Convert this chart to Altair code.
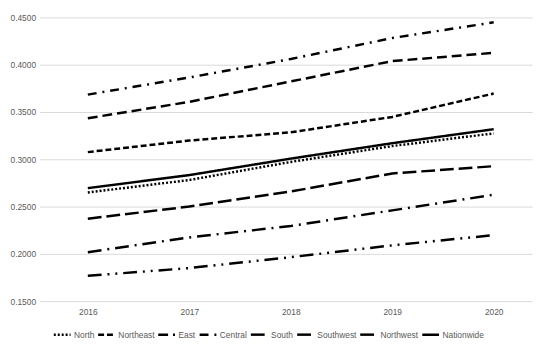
import altair as alt
import pandas as pd

years = [2016, 2017, 2018, 2019, 2020]
series = ["North", "Northeast", "East", "Central", "South", "Southwest", "Northwest", "Nationwide"]
north = [0.2649, 0.2781, 0.2972, 0.3140, 0.3274]
northeast = [0.3076, 0.3198, 0.3285, 0.3448, 0.3695]
east = [0.3434, 0.3607, 0.3823, 0.4038, 0.4125]
central = [0.3684, 0.3865, 0.4060, 0.4282, 0.4448]
south = [0.2372, 0.2500, 0.2660, 0.2850, 0.2927]
southwest = [0.2018, 0.2174, 0.2295, 0.2460, 0.2625]
northwest = [0.1768, 0.1850, 0.1965, 0.2090, 0.2198]
nationwide = [0.2695, 0.2833, 0.3007, 0.3170, 0.3318]

values = [north, northeast, east, central, south, southwest, northwest, nationwide]
dashes = [[2, 2], [6, 3], [10, 5], [9, 6, 2, 6], [14, 5], [14, 6, 2, 6], [14, 6, 2, 6, 2, 6], [1, 0]]

rows = []
for name, vals in zip(series, values):
    for yr, v in zip(years, vals):
        rows.append({"Year": yr, "Value": v, "Region": name})
df = pd.DataFrame(rows)

FONT = "Liberation Sans"
GRAY = "#595959"

chart = alt.Chart(df).mark_line(color="black", strokeWidth=2.5, strokeCap="butt").encode(
    x=alt.X("Year:Q",
            scale=alt.Scale(domain=[2015.524, 2020.379], nice=False, zero=False),
            axis=alt.Axis(values=years, format="d", title=None, grid=False, ticks=False,
                          domain=False, labelPadding=7, labelFontSize=8.5,
                          labelColor=GRAY, labelFont=FONT)),
    y=alt.Y("Value:Q",
            scale=alt.Scale(domain=[0.15, 0.45], nice=False, zero=False),
            axis=alt.Axis(values=[0.15, 0.2, 0.25, 0.3, 0.35, 0.4, 0.45], format=".4f",
                          title=None, ticks=False, domain=False, labelPadding=4,
                          labelFontSize=8.5, labelColor=GRAY, labelFont=FONT,
                          gridColor="#d9d9d9", gridWidth=1)),
    strokeDash=alt.StrokeDash("Region:N",
                              scale=alt.Scale(domain=series, range=dashes),
                              sort=series,
                              legend=alt.Legend(title=None, orient="none", direction="horizontal",
                                                legendX=13, legendY=312,
                                                symbolType="stroke", symbolStrokeWidth=2.5,
                                                symbolStrokeColor="black", symbolSize=289,
                                                columnPadding=-2, labelOffset=2,
                                                labelFontSize=8.5, labelColor=GRAY,
                                                labelFont=FONT)),
    detail="Region:N",
).properties(
    width=500, height=288,
    autosize=alt.AutoSizeParams(type="none"),
    padding={"left": 32, "top": 7, "right": 10, "bottom": 46},
).configure_view(stroke=None)

chart.save("out.html", embed_options={"renderer": "svg", "actions": False})
